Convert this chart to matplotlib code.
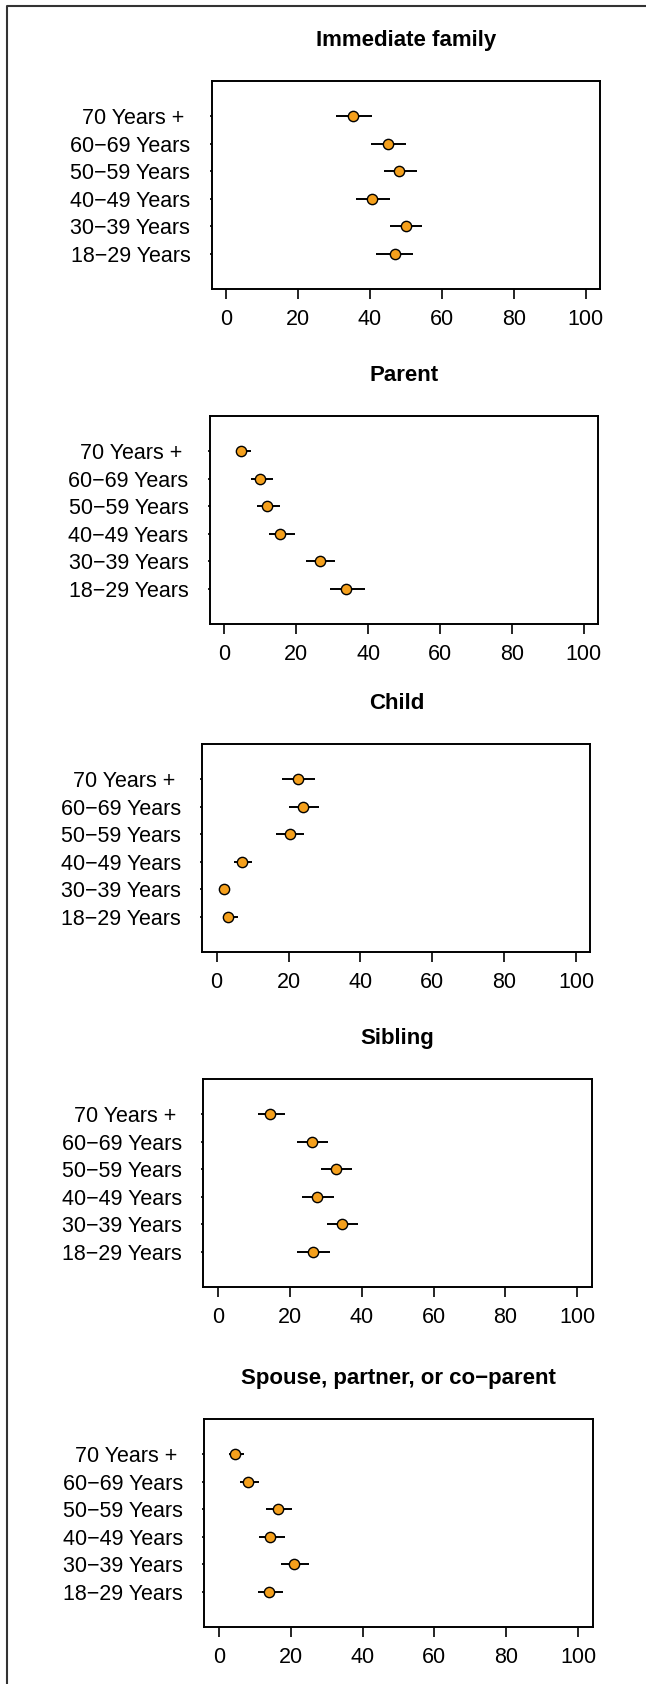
import matplotlib
matplotlib.use("Agg")
import matplotlib.pyplot as plt
from matplotlib.lines import Line2D

plt.rcParams['font.family'] = ['Liberation Sans', 'DejaVu Sans']

categories = ["18\u221229 Years", "30\u221239 Years", "40\u221249 Years",
              "50\u221259 Years", "60\u221269 Years", "70 Years + "]
titles = ["Immediate family", "Parent", "Child", "Sibling",
          "Spouse, partner, or co\u2212parent"]
xticks = [0, 20, 40, 60, 80, 100]

# values ordered as categories (18-29 first ... 70+ last)
immediate_est = [46.9, 50.0, 40.7, 48.2, 45.1, 35.4]
immediate_lo = [41.8, 45.6, 36.0, 43.8, 40.4, 30.6]
immediate_hi = [52.1, 54.4, 45.6, 53.0, 50.0, 40.7]

parent_est = [33.8, 26.5, 15.5, 11.8, 10.0, 4.7]
parent_lo = [29.3, 22.8, 12.3, 9.2, 7.4, 3.1]
parent_hi = [39.0, 30.7, 19.6, 15.5, 13.5, 7.4]

child_est = [3.2, 1.95, 7.0, 20.3, 24.1, 22.5]
child_lo = [1.7, 1.0, 4.9, 16.6, 20.1, 18.3]
child_hi = [5.9, 3.0, 9.9, 24.3, 28.4, 27.3]

sibling_est = [26.4, 34.4, 27.6, 32.8, 26.1, 14.6]
sibling_lo = [22.0, 30.3, 23.4, 28.7, 22.0, 11.2]
sibling_hi = [31.2, 38.9, 32.3, 37.3, 30.7, 18.7]

spouse_est = [14.0, 20.9, 14.3, 16.5, 8.0, 4.5]
spouse_lo = [10.9, 17.3, 11.1, 13.1, 5.8, 2.9]
spouse_hi = [17.9, 25.0, 18.3, 20.3, 11.1, 7.1]

panels = [
    (immediate_est, immediate_lo, immediate_hi),
    (parent_est, parent_lo, parent_hi),
    (child_est, child_lo, child_hi),
    (sibling_est, sibling_lo, sibling_hi),
    (spouse_est, spouse_lo, spouse_hi),
]

W, H = 646, 1684
fig = plt.figure(figsize=(W / 100, H / 100), dpi=100)

# box pixel positions (left, right, top, bottom)
boxes = [
    (211.8, 599.9, 80.7, 289.3),
    (210.1, 597.9, 415.7, 624.0),
    (202.3, 590.4, 743.7, 952.0),
    (203.5, 591.7, 1079.0, 1287.0),
    (204.4, 592.5, 1419.0, 1627.3),
]

orange = '#F5A01C'
ypos = list(range(1, len(categories) + 1))

for (est, lo, hi), title, (L, R, T, B) in zip(panels, titles, boxes):
    ax = fig.add_axes([L / W, 1 - B / H, (R - L) / W, (B - T) / H])
    ax.hlines(ypos, lo, hi, color='black', linewidth=1.4, zorder=2)
    ax.plot(est, ypos, linestyle='none', marker='o', markersize=7.4,
            markerfacecolor=orange, markeredgecolor='black',
            markeredgewidth=1.0, zorder=3)
    ax.set_xlim(-4, 104)
    ax.set_ylim(-0.28, 7.28)
    ax.set_xticks(xticks)
    ax.set_xticklabels([str(t) for t in xticks])
    ax.set_yticks(ypos)
    ax.set_yticklabels(categories)
    for s in ax.spines.values():
        s.set_linewidth(1.4)
        s.set_color('black')
    ax.tick_params(axis='x', length=7.3, width=1.2, pad=7, labelsize=15.5,
                   direction='out', colors='black')
    ax.tick_params(axis='y', length=1.5, width=1.2, pad=14, labelsize=15.5,
                   direction='out', colors='black')
    ax.text(0.5, 1 + 35 / (B - T), title, transform=ax.transAxes,
            ha='center', va='baseline', fontsize=16, fontweight='bold')

# partial frame (left and top edges) around the figure
fig.add_artist(Line2D([7 / W, 7 / W, 1.0], [0.0, 1 - 5.5 / H, 1 - 5.5 / H],
                      transform=fig.transFigure, color='#333333', linewidth=1.5))

fig.savefig("out.png", dpi=100)
